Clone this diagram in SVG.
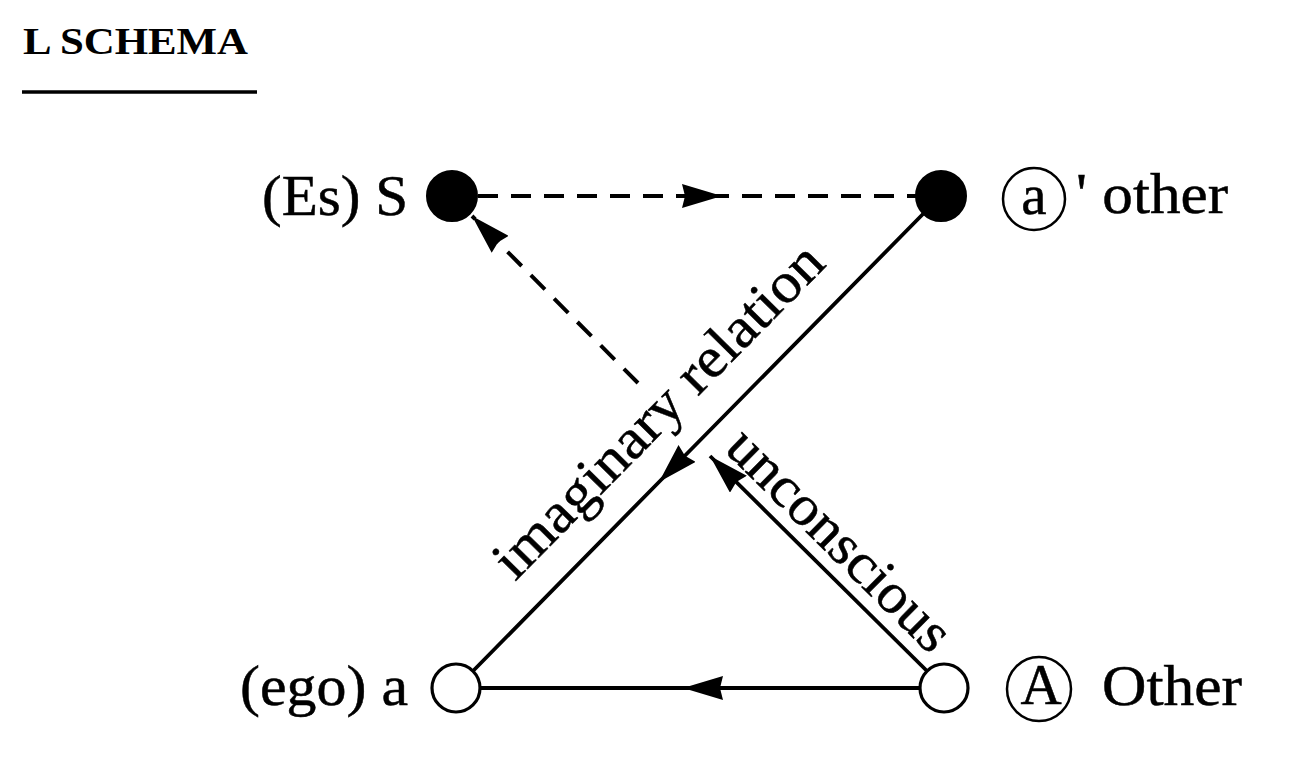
<svg xmlns="http://www.w3.org/2000/svg" width="1300" height="763" viewBox="0 0 1300 763">
  <style>
    .lbl { font-family: "Liberation Serif", "Times New Roman", serif; font-size: 57px; fill: #000; stroke: #000; stroke-width: 0.5; }
    .ttl { font-family: "Liberation Serif", "Times New Roman", serif; font-size: 37px; font-weight: bold; fill: #000; }
    .solid { stroke: #000; stroke-width: 3.8; fill: none; }
    .dash { stroke: #000; stroke-width: 4; fill: none; stroke-dasharray: 20 13; }
    .filled { fill: #000; stroke: #000; stroke-width: 2; }
    .open { fill: #fff; stroke: #000; stroke-width: 3.2; }
    .ring { fill: none; stroke: #000; stroke-width: 2.5; }
  </style>
  <defs>
    <marker id="arrow" viewBox="0 0 40 24" refX="40" refY="12" markerWidth="40" markerHeight="24" markerUnits="userSpaceOnUse" orient="auto">
      <path d="M0,0 L40,12 L0,24 L3,12 z" fill="#000"/>
    </marker>
  </defs>
  <rect width="1300" height="763" fill="#fff"/>

  <g id="title">
    <text class="ttl" x="23" y="54" textLength="225" lengthAdjust="spacingAndGlyphs">L SCHEMA</text>
    <line x1="22" y1="92" x2="257" y2="92" stroke="#000" stroke-width="3.5"/>
  </g>

  <g id="connectors">
    <path class="dash" d="M478,196 L722,196 L916,196" marker-mid="url(#arrow)"/>
    <path class="dash" d="M638,383 L472,216" marker-end="url(#arrow)"/>
    <path class="solid" d="M923,214 L659,482 L473,671" marker-mid="url(#arrow)"/>
    <path class="solid" d="M920,688 L683,688 L481,688" marker-mid="url(#arrow)"/>
    <path class="solid" d="M927,671 L710,456" marker-end="url(#arrow)"/>
    <text class="lbl" transform="translate(515,582) rotate(-45.4)" textLength="445" lengthAdjust="spacingAndGlyphs">imaginary relation</text>
    <text class="lbl" transform="translate(723,450) rotate(44.7)" textLength="292" lengthAdjust="spacingAndGlyphs">unconscious</text>
  </g>

  <g id="node-S">
    <circle class="filled" cx="452" cy="196" r="25"/>
    <text class="lbl" x="262" y="215" textLength="146" lengthAdjust="spacingAndGlyphs">(Es) S</text>
  </g>

  <g id="node-other">
    <circle class="filled" cx="941" cy="196" r="25"/>
    <circle class="ring" cx="1034" cy="199" r="31"/>
    <text class="lbl" x="1034" y="214" text-anchor="middle" font-size="52">a</text>
    <text class="lbl" x="1076" y="213" textLength="152" lengthAdjust="spacingAndGlyphs">' other</text>
  </g>

  <g id="node-ego">
    <circle class="open" cx="456" cy="688" r="24"/>
    <text class="lbl" x="240" y="705" textLength="168" lengthAdjust="spacingAndGlyphs">(ego) a</text>
  </g>

  <g id="node-Other">
    <circle class="open" cx="944" cy="688" r="24"/>
    <circle class="ring" cx="1039" cy="689" r="32"/>
    <text class="lbl" x="1041" y="704" text-anchor="middle" font-size="54">A</text>
    <text class="lbl" x="1102" y="705" textLength="140" lengthAdjust="spacingAndGlyphs">Other</text>
  </g>
</svg>
